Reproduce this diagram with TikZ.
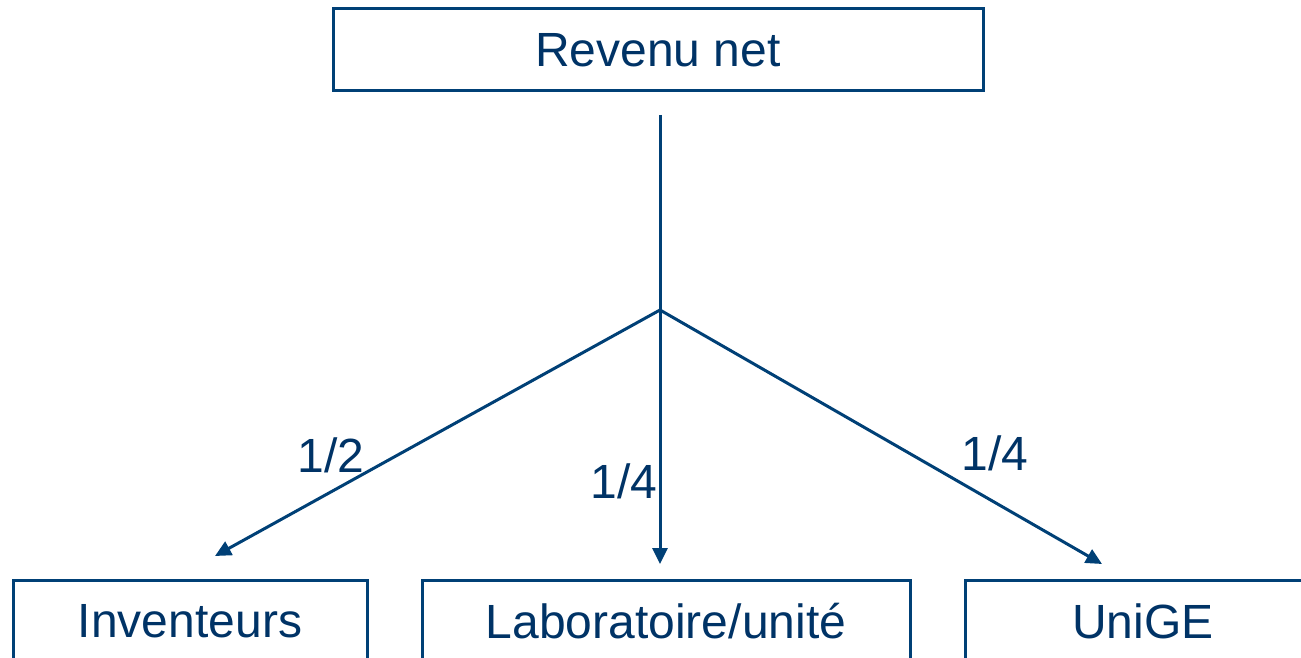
\documentclass[tikz,border=0pt]{standalone}
\usepackage{fontspec}
\setmainfont{Liberation Sans}
\usetikzlibrary{arrows.meta, positioning}
\definecolor{unidark}{RGB}{0,64,118}
\definecolor{unitext}{RGB}{0,51,102}

\begin{document}
\begin{tikzpicture}[x=1pt,y=-1pt,node distance=2cm,on grid,>={Triangle[length=16pt,width=15pt]},
      box/.style={draw=unidark,line width=3pt,minimum height=82pt,inner sep=0pt,
        text=unitext,font=\fontsize{48}{58}\selectfont},
      frac/.style={text=unitext,inner sep=0pt,font=\fontsize{48}{58}\selectfont},
      flow/.style={->,draw=unidark,line width=3pt}]
      \useasboundingbox (0,0) rectangle (1301,658);
      \clip (0,0) rectangle (1301,658);
      \node[box, minimum width=650pt] (revenu) at (658,50) {Revenu net};
      \node[box, minimum width=488pt] (labo) at (666,621) {Laboratoire/unit\'e};
      \node[box, minimum width=354pt] (inv) [left=476pt of labo] {Inventeurs};
      \node[box, minimum width=356pt] (unige) [right=477pt of labo] {UniGE};
      % split point and arrow ends
      \coordinate (start) at (660,115);
      \coordinate (split) at (660,310);
      \coordinate (toinv) at (215,556);
      \coordinate (tolabo) at (660,564);
      \coordinate (tounige) at (1102,564);
      \draw[flow] (start) -- (tolabo);
      \draw[flow] (split) -- (toinv);
      \draw[flow] (split) -- (tounige);
      \node[frac] (half) at (331,455) {1/2};
      \node[frac] (qlabo) at (624,481) {1/4};
      \node[frac] (qunige) at (995,453) {1/4};
    \end{tikzpicture}
\end{document}
